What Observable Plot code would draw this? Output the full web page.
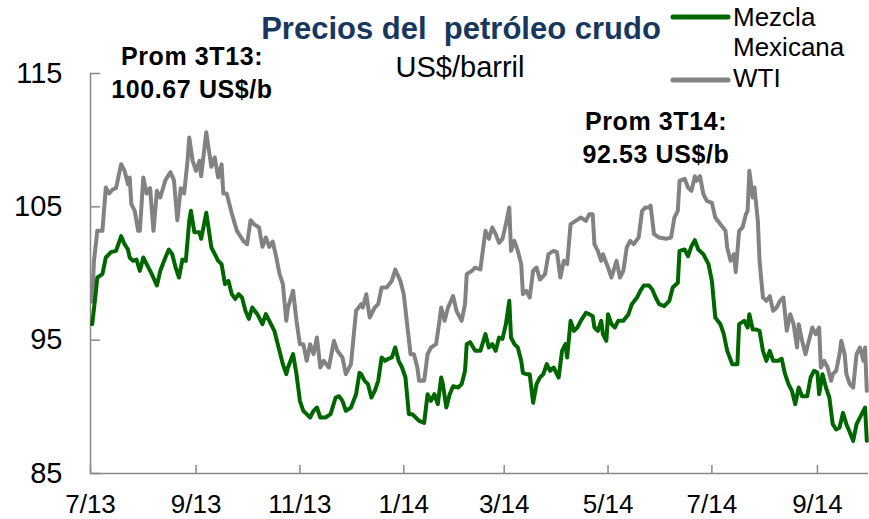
<!DOCTYPE html>
<html><head><meta charset="utf-8">
<script src="https://cdn.jsdelivr.net/npm/d3@7"></script>
<script src="https://cdn.jsdelivr.net/npm/@observablehq/plot@0.6"></script>
<style>
html,body{margin:0;padding:0;background:#fff}
#chart{width:869px;height:519px}
</style>
</head><body><div id="chart"></div>
<script>
// ---- Data (days since 1 Jul 2013, US$/barrel) ----
const seriesNames = ["Mezcla Mexicana", "WTI"];
const xTickLabels = ["7/13","9/13","11/13","1/14","3/14","5/14","7/14","9/14"];
const yTicks = [85, 95, 105, 115];
const annotations = [["Prom 3T13:", "100.67 US$/b"], ["Prom 3T14:", "92.53 US$/b"]];

const wtiDay = [1,2,4,7,9,11,13,15,18,20,22,23,24,26,28,29,31,33,35,37,39,41,44,47,49,51,53,55,57,58,60,62,64,65,68,69,71,73,75,77,78,80,83,86,90,92,94,96,99,101,103,105,107,109,111,113,115,116,119,121,123,125,127,129,131,133,135,137,140,143,145,148,150,153,156,159,160,162,164,167,169,171,174,177,179,182,184,186,188,190,192,193,196,198,200,203,205,206,208,210,213,215,218,220,221,224,226,229,232,234,236,238,240,242,244,246,247,249,251,253,254,256,258,260,262,264,267,269,272,274,276,278,280,282,285,288,291,293,295,296,298,300,301,304,306,309,311,313,315,317,319,322,324,326,328,329,331,334,338,341,343,345,346,349,351,353,355,356,358,360,362,365,367,370,373,374,376,378,379,381,383,385,386,387,389,390,392,393,395,397,399,401,403,405,407,409,411,413,415,416,418,420,422,424,426,428,429,431,433,435,436,438,440,441,443,444,446,448,450,452,454,455,456];
const wtiPrice = [97.9,100.9,103.2,103.2,106.45,106.0,106.3,106.4,108.2,107.7,106.7,107.2,105.2,104.7,103.2,103.2,107.2,106.0,106.4,103.2,106.2,105.7,107.0,107.6,107.0,104.0,106.4,106.0,108.45,110.2,108.45,107.7,108.45,107.3,110.6,109.7,108.0,108.7,107.2,108.2,106.0,106.0,104.5,103.2,102.4,102.2,104.0,103.7,103.45,102.0,102.7,102.0,102.4,101.3,100.0,99.2,96.45,97.45,98.7,96.45,94.7,94.7,93.45,94.7,93.95,95.2,92.95,93.45,92.95,94.95,94.2,93.7,92.45,93.2,97.2,97.7,97.45,98.45,96.7,97.45,97.7,98.95,98.95,99.45,100.3,99.45,98.45,96.2,93.95,93.95,92.95,91.95,91.95,93.95,94.45,94.7,96.45,97.45,96.45,97.45,98.3,97.2,96.45,97.7,99.95,100.2,100.45,100.3,103.2,102.6,103.45,102.95,102.3,102.6,103.7,104.95,101.7,102.45,101.7,100.7,98.45,98.7,98.2,100.2,100.45,99.55,99.95,101.45,101.7,101.6,99.7,100.95,100.7,103.7,103.95,104.2,103.95,104.45,104.45,102.2,101.7,100.95,101.45,100.45,99.7,100.95,99.7,100.2,101.95,102.45,102.2,102.7,104.7,104.95,104.95,105.1,102.95,102.7,102.6,102.7,104.2,104.7,106.95,107.1,106.45,106.2,107.3,106.95,107.3,105.95,105.45,105.3,104.2,103.7,103.2,101.95,100.95,101.45,100.1,103.2,103.45,104.45,104.7,107.7,105.7,106.45,103.95,100.95,98.2,97.95,98.3,97.2,97.45,97.95,98.2,95.7,96.95,96.2,94.45,96.2,94.95,93.95,94.95,95.95,95.45,95.95,92.95,93.45,92.95,91.95,92.45,92.7,93.95,94.95,93.95,92.45,91.7,91.45,93.95,94.45,93.45,94.45,91.2];

const mezDay = [1,3,4,7,9,12,15,18,20,22,23,25,27,29,31,33,36,39,41,44,46,48,50,52,54,56,58,59,61,64,65,68,69,71,73,75,77,79,81,83,85,87,89,91,93,95,98,101,103,106,108,110,111,113,115,116,119,121,123,125,127,129,131,133,135,138,141,144,146,148,150,153,156,158,159,161,163,165,167,169,171,173,175,177,179,181,183,185,187,189,191,193,196,198,200,202,204,206,207,209,211,213,216,218,220,221,223,226,229,232,234,236,238,240,242,244,246,247,249,251,253,254,256,258,260,262,264,266,268,270,272,275,277,279,280,282,284,286,288,291,293,295,296,298,300,301,303,304,306,308,310,313,316,318,321,323,325,328,330,332,334,337,340,342,345,346,349,351,353,355,357,360,363,365,367,370,372,374,377,380,381,384,386,387,389,391,393,395,397,399,401,404,406,408,410,412,414,416,418,421,423,425,427,428,430,432,434,436,438,440,442,444,446,448,450,453,455,456];
const mezPrice = [96.2,98.45,99.7,99.95,101.2,101.6,101.7,102.8,102.2,101.8,101.2,100.95,101.05,100.2,101.2,100.7,99.95,99.1,100.2,101.2,101.8,101.45,100.45,99.7,101.05,100.95,103.95,104.7,103.1,103.1,102.6,104.55,103.7,101.95,101.45,100.95,100.7,99.2,99.45,98.45,98.1,98.45,98.2,97.2,96.6,97.45,96.95,96.2,96.95,96.2,95.7,94.7,94.2,93.2,92.45,92.95,93.95,92.45,90.45,89.7,89.45,89.2,89.7,89.95,89.2,89.2,89.45,90.7,90.8,90.45,89.7,89.95,90.95,92.55,92.45,91.95,91.7,90.7,91.2,91.95,93.7,93.45,93.6,93.7,94.45,93.45,92.95,92.2,89.45,89.45,89.2,88.95,88.8,90.95,90.45,90.95,90.2,92.2,91.7,89.95,90.95,91.55,91.45,91.7,92.7,94.7,94.85,94.2,94.2,95.45,94.45,94.7,94.2,95.2,95.1,96.2,97.95,95.2,94.7,94.45,93.45,92.55,92.45,92.45,90.3,91.7,92.2,92.45,93.2,92.7,92.95,92.2,94.2,94.7,93.7,96.45,95.7,95.95,96.45,97.05,96.95,96.8,95.95,95.7,96.45,95.45,94.95,96.95,96.2,95.95,96.45,96.45,96.95,97.7,98.2,98.7,99.1,99.1,98.8,98.2,97.7,97.55,97.95,98.95,99.3,101.7,101.8,101.3,102.05,102.5,101.8,101.45,100.7,99.45,96.7,96.2,95.45,94.2,93.2,93.2,96.2,96.45,95.95,96.95,95.8,95.8,95.7,94.2,93.45,94.2,93.45,93.45,93.6,92.45,91.7,91.2,90.2,91.45,90.8,90.8,92.2,92.7,92.55,90.95,92.45,91.45,90.7,88.7,88.3,88.45,89.55,88.7,88.1,87.45,88.7,89.45,89.95,87.45];

// ---- Build ----
const start = Date.UTC(2013, 6, 1);
const toDate = d => new Date(start + d * 864e5);
const wti = wtiDay.map((d, i) => ({date: toDate(d), price: wtiPrice[i]}));
const mez = mezDay.map((d, i) => ({date: toDate(d), price: mezPrice[i]}));
const xTicks = xTickLabels.map(s => { const [m, y] = s.split("/").map(Number); return new Date(Date.UTC(2000 + y, m - 1, 1)); });
const xDomain = [new Date(start), new Date(Date.UTC(2014, 9, 1))];

const W = 869, H = 519, mL = 90, mR = 1, mT = 73, mB = 46;
const axisColor = "#898989", wtiColor = "#828282", mezColor = "#006600", titleColor = "#17375E";
const font = "'Liberation Sans', Arial, sans-serif";

const plot = Plot.plot({
  width: W, height: H,
  marginLeft: mL, marginRight: mR, marginTop: mT, marginBottom: mB,
  style: {fontFamily: font, color: "#000", background: "#fff", overflow: "visible"},
  x: {type: "utc", domain: xDomain},
  y: {domain: [85, 115]},
  marks: [
    Plot.ruleX([xDomain[0]], {stroke: axisColor, strokeWidth: 1.5}),
    Plot.ruleY([85], {stroke: axisColor, strokeWidth: 1.5}),
    Plot.tickY(yTicks, {y: d => d, stroke: axisColor, strokeWidth: 1.5, insetRight: W - mL - mR - 10}),
    Plot.tickX(xTicks, {x: d => d, stroke: axisColor, strokeWidth: 1.5, insetTop: H - mT - mB - 8}),
    Plot.axisY({ticks: yTicks, tickSize: 0, tickPadding: 28, fontSize: 29, label: null, tickFormat: d => String(d)}),
    Plot.axisX({ticks: xTicks, tickSize: 0, tickPadding: 21, fontSize: 26, label: null,
      tickFormat: d => xTickLabels[xTicks.findIndex(t => +t === +d)]}),
    Plot.line(wti, {x: "date", y: "price", stroke: wtiColor, strokeWidth: 4, strokeLinejoin: "round", strokeLinecap: "round"}),
    Plot.line(mez, {x: "date", y: "price", stroke: mezColor, strokeWidth: 4, strokeLinejoin: "round", strokeLinecap: "round"})
  ]
});

const svg = d3.select(plot);
const addText = (txt, x, y, opts) => {
  const t = svg.append("text").attr("x", x).attr("y", y).text(txt)
    .attr("font-family", font).style("white-space", "pre");
  Object.entries(opts).forEach(([k, v]) => t.attr(k, v));
  return t;
};
// Title & subtitle
addText("Precios del  petróleo crudo", 461, 39, {"text-anchor": "middle", "font-size": 31, "font-weight": "bold", fill: titleColor});
addText("US$/barril", 460, 77, {"text-anchor": "middle", "font-size": 29, fill: "#000"});
// Legend
const legend = [
  {color: mezColor, lineY: 17, lines: ["Mezcla", "Mexicana"], y: 26},
  {color: wtiColor, lineY: 80, lines: ["WTI"], y: 87}
];
legend.forEach(l => {
  svg.append("line").attr("x1", 673).attr("x2", 728).attr("y1", l.lineY).attr("y2", l.lineY)
    .attr("stroke", l.color).attr("stroke-width", 5).attr("stroke-linecap", "round");
  l.lines.forEach((s, i) => addText(s, 733, l.y + i * 30, {"text-anchor": "start", "font-size": 26, fill: "#000"}));
});
// Quarter-average annotations
const annPos = [[192, 65], [656, 130]];
annotations.forEach((a, k) => {
  a.forEach((s, i) => addText(s, annPos[k][0], annPos[k][1] + i * 33,
    {"text-anchor": "middle", "font-size": 25, "font-weight": "bold", "letter-spacing": "0.6px", fill: "#000"}));
});

document.getElementById("chart").appendChild(plot);
</script>
</body></html>
